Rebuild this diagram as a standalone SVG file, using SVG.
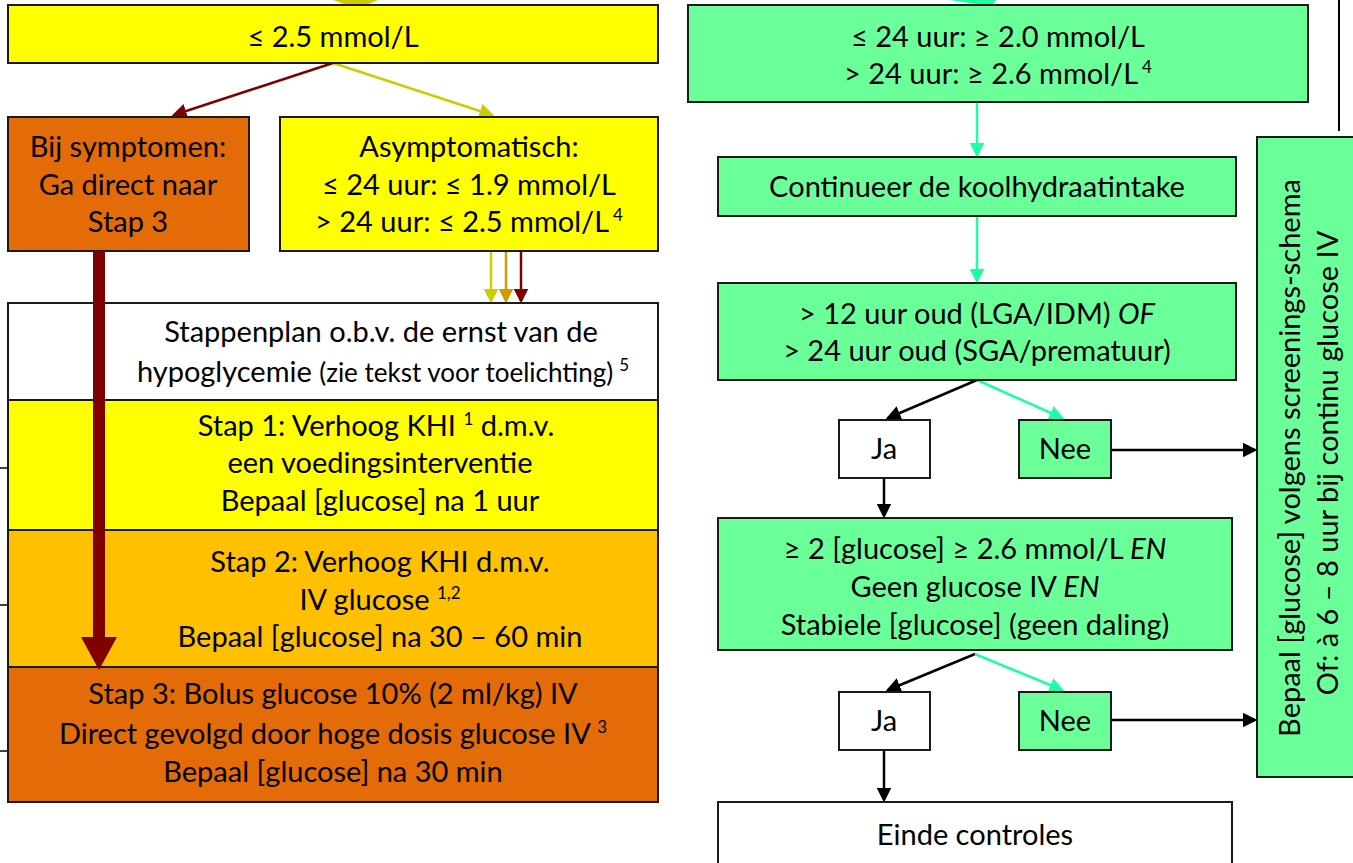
<svg xmlns="http://www.w3.org/2000/svg" width="1353" height="863" viewBox="0 0 1353 863">
<defs>
<style>
text{font-family:Lato,"Liberation Sans",sans-serif;font-size:29px;fill:#000;text-anchor:middle}
.sm{font-size:26px}
.sup{font-size:17px}
.box{stroke:#1a1a1a;stroke-width:2}
.yel{fill:#FFFF00}.amb{fill:#FFC000}.org{fill:#E36C09}.grn{fill:#6BFF9A}.wht{fill:#fff}
.c{fill:none;stroke-width:2.5}
</style>
<marker id="mk" markerWidth="6" markerHeight="6" refX="5" refY="3" orient="auto" markerUnits="strokeWidth"><path d="M0,0 L6,3 L0,6 z" fill="#000"/></marker>
<marker id="mr" markerWidth="6" markerHeight="6" refX="5" refY="3" orient="auto" markerUnits="strokeWidth"><path d="M0,0 L6,3 L0,6 z" fill="#800000"/></marker>
<marker id="my" markerWidth="6" markerHeight="6" refX="5" refY="3" orient="auto" markerUnits="strokeWidth"><path d="M0,0 L6,3 L0,6 z" fill="#CCCC00"/></marker>
<marker id="mo" markerWidth="6" markerHeight="6" refX="5" refY="3" orient="auto" markerUnits="strokeWidth"><path d="M0,0 L6,3 L0,6 z" fill="#D09A00"/></marker>
<marker id="mg" markerWidth="6" markerHeight="6" refX="5" refY="3" orient="auto" markerUnits="strokeWidth"><path d="M0,0 L6,3 L0,6 z" fill="#1AFFA0"/></marker>
</defs>

<g id="connectors">
<polygon points="333,0 378,0 362,7 358,9" fill="#CCCC00"/>
<polygon points="950,0 996,0 992,6 988,6" fill="#1AFFA0"/>
<line x1="1339" y1="0" x2="1339" y2="131" stroke="#000" stroke-width="2"/>
<line x1="0" y1="468" x2="8" y2="468" stroke="#000" stroke-width="1.5"/>
<line x1="0" y1="605" x2="8" y2="605" stroke="#000" stroke-width="1.5"/>
<line x1="0" y1="751" x2="8" y2="751" stroke="#000" stroke-width="1.5"/>
<line class="c" x1="333" y1="63" x2="174" y2="115" stroke="#800000" marker-end="url(#mr)"/>
<line class="c" x1="333" y1="63" x2="492" y2="115" stroke="#CCCC00" marker-end="url(#my)"/>
<line class="c" x1="491" y1="251" x2="491" y2="301" stroke="#CCCC00" marker-end="url(#my)"/>
<line class="c" x1="506" y1="251" x2="506" y2="301" stroke="#D09A00" marker-end="url(#mo)"/>
<line class="c" x1="521" y1="251" x2="521" y2="301" stroke="#800000" marker-end="url(#mr)"/>
<line class="c" x1="977" y1="102" x2="977" y2="155" stroke="#1AFFA0" marker-end="url(#mg)"/>
<line class="c" x1="977" y1="216" x2="977" y2="281" stroke="#1AFFA0" marker-end="url(#mg)"/>
<line class="c" x1="977" y1="380" x2="888" y2="418" stroke="#000" marker-end="url(#mk)"/>
<line class="c" x1="977" y1="380" x2="1062" y2="418" stroke="#1AFFA0" marker-end="url(#mg)"/>
<line class="c" x1="1111" y1="450" x2="1255" y2="450" stroke="#000" marker-end="url(#mk)"/>
<line class="c" x1="884" y1="478" x2="884" y2="516" stroke="#000" marker-end="url(#mk)"/>
<line class="c" x1="975" y1="654" x2="888" y2="690" stroke="#000" marker-end="url(#mk)"/>
<line class="c" x1="975" y1="654" x2="1062" y2="690" stroke="#1AFFA0" marker-end="url(#mg)"/>
<line class="c" x1="1111" y1="720" x2="1255" y2="720" stroke="#000" marker-end="url(#mk)"/>
<line class="c" x1="884" y1="750" x2="884" y2="800" stroke="#000" marker-end="url(#mk)"/>
</g>

<g id="n-top"><rect class="box yel" x="8" y="5" width="650" height="58"/><text x="333" y="47">≤ 2.5 mmol/L</text></g>
<g id="n-symptomen"><rect class="box org" x="8" y="117" width="241" height="134"/>
<text x="128" y="157">Bij symptomen:</text><text x="128" y="195">Ga direct naar</text><text x="128" y="232">Stap 3</text></g>
<g id="n-asymp"><rect class="box yel" x="280" y="117" width="378" height="134"/>
<text x="469" y="157">Asymptomatisch:</text><text x="469" y="195">≤ 24 uur: ≤ 1.9 mmol/L</text><text x="469" y="232">&gt; 24 uur: ≤ 2.5 mmol/L<tspan class="sup" dx="4" dy="-11">4</tspan></text></g>
<g id="n-stappenplan"><rect class="box wht" x="8" y="303" width="650" height="97"/>
<text x="381" y="342">Stappenplan o.b.v. de ernst van de</text>
<text x="383" y="382">hypoglycemie <tspan class="sm">(zie tekst voor toelichting)</tspan><tspan class="sup" dx="6" dy="-11">5</tspan></text></g>
<g id="n-stap1"><rect class="box yel" x="8" y="400" width="650" height="130"/>
<text x="376" y="436">Stap 1: Verhoog KHI <tspan class="sup" dy="-11">1</tspan><tspan dy="11"> d.m.v.</tspan></text>
<text x="380" y="473">een voedingsinterventie</text><text x="380" y="511">Bepaal [glucose] na 1 uur</text></g>
<g id="n-stap2"><rect class="box amb" x="8" y="530" width="650" height="137"/>
<text x="380" y="572">Stap 2: Verhoog KHI d.m.v.</text>
<text x="380" y="610">IV glucose <tspan class="sup" dy="-11">1,2</tspan></text>
<text x="380" y="647">Bepaal [glucose] na 30 – 60 min</text></g>
<g id="n-stap3"><rect class="box org" x="8" y="667" width="650" height="135"/>
<text x="333" y="704">Stap 3: Bolus glucose 10% (2 ml/kg) IV</text>
<text x="333" y="744">Direct gevolgd door hoge dosis glucose IV <tspan class="sup" dy="-11">3</tspan></text>
<text x="333" y="782">Bepaal [glucose] na 30 min</text></g>
<g id="thick-arrow"><rect x="93" y="251" width="12" height="390" fill="#800000"/><polygon points="81,637 117,637 99,670" fill="#800000"/></g>

<g id="n-green1"><rect class="box grn" x="688" y="5" width="620" height="97"/>
<text x="998" y="47">≤ 24 uur: ≥ 2.0 mmol/L</text><text x="998" y="84">&gt; 24 uur: ≥ 2.6 mmol/L<tspan class="sup" dx="4" dy="-11">4</tspan></text></g>
<g id="n-continueer"><rect class="box grn" x="718" y="157" width="518" height="59"/><text x="977" y="197">Continueer de koolhydraatintake</text></g>
<g id="n-oud"><rect class="box grn" x="718" y="283" width="518" height="97"/>
<text x="977" y="324">&gt; 12 uur oud (LGA/IDM) <tspan font-style="italic">OF</tspan></text>
<text x="977" y="361">&gt; 24 uur oud (SGA/prematuur)</text></g>
<g id="n-ja1"><rect class="box wht" x="839" y="420" width="91" height="58"/><text x="884" y="459">Ja</text></g>
<g id="n-nee1"><rect class="box grn" x="1019" y="420" width="92" height="58"/><text x="1065" y="459">Nee</text></g>
<g id="n-criteria"><rect class="box grn" x="718" y="518" width="514" height="132"/>
<text x="975" y="559">≥ 2 [glucose] ≥ 2.6 mmol/L <tspan font-style="italic">EN</tspan></text>
<text x="975" y="597">Geen glucose IV <tspan font-style="italic">EN</tspan></text>
<text x="975" y="635">Stabiele [glucose] (geen daling)</text></g>
<g id="n-ja2"><rect class="box wht" x="839" y="692" width="91" height="58"/><text x="884" y="731">Ja</text></g>
<g id="n-nee2"><rect class="box grn" x="1019" y="692" width="92" height="58"/><text x="1065" y="731">Nee</text></g>
<g id="n-einde"><rect class="box wht" x="718" y="802" width="514" height="70"/><text x="975" y="845">Einde controles</text></g>
<g id="n-side"><rect class="box grn" x="1257" y="137" width="110" height="640"/>
<text transform="translate(1300,458) rotate(-90)">Bepaal [glucose] volgens screenings-schema</text>
<text transform="translate(1338,463) rotate(-90)">Of: à 6 – 8 uur bij continu glucose IV</text></g>
</svg>
